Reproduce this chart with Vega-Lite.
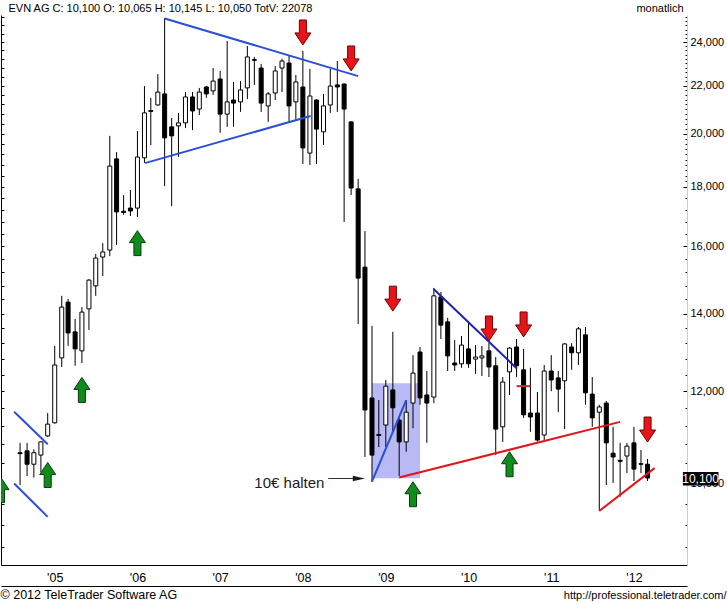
{
  "$schema": "https://vega.github.io/schema/vega-lite/v6.json",
  "width": 686,
  "height": 550,
  "autosize": {"type": "none"},
  "padding": {"left": 1, "top": 15, "right": 40, "bottom": 39},
  "background": "white",
  "config": {
    "view": {"stroke": null},
    "font": "Liberation Sans",
    "axis": {"grid": false, "labelFont": "Liberation Sans", "titleFont": "Liberation Sans"}
  },
  "datasets": {
    "candles": [
      {"date":"2004-08-01","open":10620,"high":10830,"low":9960,"close":10600},
      {"date":"2004-09-01","open":10660,"high":10830,"low":10140,"close":10380},
      {"date":"2004-10-01","open":10380,"high":10690,"low":10110,"close":10620},
      {"date":"2004-11-01","open":10570,"high":10860,"low":10220,"close":10850},
      {"date":"2004-12-01","open":10980,"high":11490,"low":10960,"close":11240},
      {"date":"2005-01-01","open":11270,"high":13130,"low":11250,"close":12640},
      {"date":"2005-02-01","open":12820,"high":14500,"low":12590,"close":14180},
      {"date":"2005-03-01","open":14320,"high":14410,"low":13130,"close":13470},
      {"date":"2005-04-01","open":13500,"high":13850,"low":12620,"close":13050},
      {"date":"2005-05-01","open":13000,"high":14180,"low":12690,"close":14040},
      {"date":"2005-06-01","open":14130,"high":14990,"low":13550,"close":14960},
      {"date":"2005-07-01","open":14790,"high":15760,"low":14500,"close":15630},
      {"date":"2005-08-01","open":15660,"high":16100,"low":15080,"close":15820},
      {"date":"2005-09-01","open":15880,"high":19920,"low":15690,"close":18760},
      {"date":"2005-10-01","open":19030,"high":19290,"low":16040,"close":17130},
      {"date":"2005-11-01","open":17150,"high":17710,"low":17030,"close":17110},
      {"date":"2005-12-01","open":17260,"high":17890,"low":16990,"close":17160},
      {"date":"2006-01-01","open":17260,"high":20110,"low":16960,"close":19100},
      {"date":"2006-02-01","open":19070,"high":21990,"low":18880,"close":20850},
      {"date":"2006-03-01","open":20950,"high":21480,"low":19560,"close":20910},
      {"date":"2006-04-01","open":21180,"high":22520,"low":21150,"close":21730},
      {"date":"2006-05-01","open":21650,"high":25170,"low":18030,"close":19840},
      {"date":"2006-06-01","open":20280,"high":20640,"low":17330,"close":19920},
      {"date":"2006-07-01","open":20320,"high":20850,"low":19100,"close":20440},
      {"date":"2006-08-01","open":20440,"high":21730,"low":20230,"close":21520},
      {"date":"2006-09-01","open":21520,"high":21730,"low":20150,"close":20930},
      {"date":"2006-10-01","open":21010,"high":21910,"low":20760,"close":21730},
      {"date":"2006-11-01","open":21950,"high":21990,"low":21480,"close":21650},
      {"date":"2006-12-01","open":21780,"high":22790,"low":21610,"close":22210},
      {"date":"2007-01-01","open":22300,"high":22660,"low":20040,"close":20800},
      {"date":"2007-02-01","open":20800,"high":24050,"low":20280,"close":21310},
      {"date":"2007-03-01","open":21390,"high":22170,"low":20280,"close":21260},
      {"date":"2007-04-01","open":21310,"high":22210,"low":20890,"close":21820},
      {"date":"2007-05-01","open":21910,"high":23810,"low":21430,"close":23300},
      {"date":"2007-06-01","open":23140,"high":23300,"low":22040,"close":23180},
      {"date":"2007-07-01","open":22790,"high":22980,"low":20890,"close":21260},
      {"date":"2007-08-01","open":21140,"high":21730,"low":20480,"close":21650},
      {"date":"2007-09-01","open":21690,"high":22880,"low":21390,"close":22660},
      {"date":"2007-10-01","open":22790,"high":23210,"low":21730,"close":23110},
      {"date":"2007-11-01","open":23020,"high":23390,"low":20480,"close":21140},
      {"date":"2007-12-01","open":21310,"high":22480,"low":20560,"close":22170},
      {"date":"2008-01-01","open":21950,"high":23580,"low":18840,"close":19450},
      {"date":"2008-02-01","open":19250,"high":22750,"low":18800,"close":21560},
      {"date":"2008-03-01","open":21390,"high":21420,"low":18840,"close":20190},
      {"date":"2008-04-01","open":20080,"high":21650,"low":19560,"close":21140},
      {"date":"2008-05-01","open":21180,"high":22750,"low":20850,"close":21990},
      {"date":"2008-06-01","open":22040,"high":23110,"low":20890,"close":21950},
      {"date":"2008-07-01","open":22080,"high":22100,"low":16790,"close":21010},
      {"date":"2008-08-01","open":20480,"high":20500,"low":17710,"close":17960},
      {"date":"2008-09-01","open":17930,"high":18290,"low":13710,"close":15020},
      {"date":"2008-10-01","open":15350,"high":16490,"low":10530,"close":11560},
      {"date":"2008-11-01","open":11840,"high":13660,"low":10020,"close":10570},
      {"date":"2008-12-01","open":11010,"high":11790,"low":10740,"close":10990},
      {"date":"2009-01-01","open":11220,"high":12270,"low":10740,"close":12120},
      {"date":"2009-02-01","open":12030,"high":13500,"low":11070,"close":11610},
      {"date":"2009-03-01","open":11330,"high":11380,"low":10140,"close":10850},
      {"date":"2009-04-01","open":10850,"high":11790,"low":10640,"close":11510},
      {"date":"2009-05-01","open":11720,"high":12890,"low":11150,"close":12440},
      {"date":"2009-06-01","open":12970,"high":13100,"low":11680,"close":11840},
      {"date":"2009-07-01","open":11910,"high":12490,"low":10830,"close":11720},
      {"date":"2009-08-01","open":11860,"high":14730,"low":11720,"close":14500},
      {"date":"2009-09-01","open":14470,"high":14610,"low":13310,"close":13680},
      {"date":"2009-10-01","open":13770,"high":13880,"low":12490,"close":12870},
      {"date":"2009-11-01","open":12690,"high":13280,"low":12490,"close":12640},
      {"date":"2009-12-01","open":12670,"high":13390,"low":12570,"close":13150},
      {"date":"2010-01-01","open":13050,"high":13790,"low":12570,"close":12670},
      {"date":"2010-02-01","open":12790,"high":13150,"low":12420,"close":12840},
      {"date":"2010-03-01","open":12820,"high":13130,"low":12370,"close":12870},
      {"date":"2010-04-01","open":13000,"high":13200,"low":12340,"close":12590},
      {"date":"2010-05-01","open":12620,"high":12840,"low":10570,"close":11130},
      {"date":"2010-06-01","open":11180,"high":12340,"low":10850,"close":12220},
      {"date":"2010-07-01","open":12470,"high":13100,"low":11910,"close":13070},
      {"date":"2010-08-01","open":13100,"high":13310,"low":12340,"close":12620},
      {"date":"2010-09-01","open":12520,"high":13050,"low":11380,"close":11450},
      {"date":"2010-10-01","open":11490,"high":12570,"low":11070,"close":11400},
      {"date":"2010-11-01","open":11490,"high":11980,"low":10860,"close":10890},
      {"date":"2010-12-01","open":11000,"high":12640,"low":10890,"close":12490},
      {"date":"2011-01-01","open":12490,"high":12890,"low":12000,"close":12270},
      {"date":"2011-02-01","open":12320,"high":12490,"low":11510,"close":12050},
      {"date":"2011-03-01","open":12250,"high":13200,"low":11130,"close":13180},
      {"date":"2011-04-01","open":13100,"high":13200,"low":12520,"close":12950},
      {"date":"2011-05-01","open":12950,"high":13630,"low":12640,"close":13580},
      {"date":"2011-06-01","open":13420,"high":13630,"low":11680,"close":11960},
      {"date":"2011-07-01","open":11930,"high":12340,"low":11180,"close":11380},
      {"date":"2011-08-01","open":11510,"high":11680,"low":9460,"close":11630},
      {"date":"2011-09-01","open":11720,"high":11770,"low":9960,"close":10830},
      {"date":"2011-10-01","open":10610,"high":11180,"low":10000,"close":10530},
      {"date":"2011-11-01","open":10460,"high":10830,"low":9730,"close":10440},
      {"date":"2011-12-01","open":10550,"high":10830,"low":10200,"close":10760},
      {"date":"2012-01-01","open":10830,"high":11180,"low":10040,"close":10280},
      {"date":"2012-02-01","open":10390,"high":10680,"low":10200,"close":10380},
      {"date":"2012-03-01","open":10380,"high":10490,"low":10040,"close":10100}
    ],
    "lines": [
      {"id":"L1","farbe":"blau","date":"2006-05-01","price":25150},
      {"id":"L1","farbe":"blau","date":"2008-09-01","price":22430},
      {"id":"L2","farbe":"blau","date":"2006-02-03","price":18870},
      {"id":"L2","farbe":"blau","date":"2008-02-04","price":20720},
      {"id":"L3","farbe":"blau","date":"2004-07-06","price":11520},
      {"id":"L3","farbe":"blau","date":"2004-12-01","price":10800},
      {"id":"L4","farbe":"blau","date":"2004-07-06","price":9990},
      {"id":"L4","farbe":"blau","date":"2004-12-01","price":9350},
      {"id":"L5","farbe":"blau","date":"2008-11-01","price":10030},
      {"id":"L5","farbe":"blau","date":"2009-04-01","price":11790},
      {"id":"L6","farbe":"dunkelblau","date":"2009-08-01","price":14690},
      {"id":"L6","farbe":"dunkelblau","date":"2010-08-01","price":12560},
      {"id":"L7","farbe":"rot","date":"2009-03-01","price":10110},
      {"id":"L7","farbe":"rot","date":"2011-11-01","price":11290},
      {"id":"L8","farbe":"rot","date":"2011-08-01","price":9460},
      {"id":"L8","farbe":"rot","date":"2012-04-01","price":10300},
      {"id":"L9","farbe":"dunkelrot","date":"2010-08-01","price":12120},
      {"id":"L9","farbe":"dunkelrot","date":"2010-10-01","price":12120}
    ],
    "arrows": [
      {"richtung":"auf","date":"2004-05-09","price":9860},
      {"richtung":"auf","date":"2004-12-01","price":10160},
      {"richtung":"auf","date":"2005-05-01","price":12030},
      {"richtung":"auf","date":"2006-01-01","price":16100},
      {"richtung":"auf","date":"2009-05-01","price":9780},
      {"richtung":"auf","date":"2010-07-01","price":10380},
      {"richtung":"ab","date":"2008-01-01","price":24460},
      {"richtung":"ab","date":"2008-08-01","price":23230},
      {"richtung":"ab","date":"2009-02-01","price":14420},
      {"richtung":"ab","date":"2010-04-01","price":13590},
      {"richtung":"ab","date":"2010-09-01","price":13700},
      {"richtung":"ab","date":"2012-03-01","price":11120}
    ],
    "zone": [{"start":"2008-11-01","end":"2009-06-01","low":10095,"high":12190}],
    "callout": [{"text":"10€ halten","textdate":"2007-06-01","textprice":9911,"from":"2008-04-22","to":"2008-09-01","tip":"2008-09-04","price":10090}],
    "tag": [{"label":"10,100","start":"2012-08-04","end":"2013-01-08","mid":"2012-10-21","low":9950,"high":10221,"price":10090}]
  },
  "layer": [
    {
      "data": {"name": "zone"},
      "mark": {"type": "rect", "color": "#b9b9f6"},
      "encoding": {
        "x": {
          "field": "start", "type": "temporal",
          "scale": {"type": "utc", "domain": [{"year": 2004, "month": 5, "date": 31, "utc": true}, {"year": 2012, "month": 7, "date": 31, "utc": true}]},
          "axis": {
            "orient": "bottom", "format": "'%y", "tickCount": {"interval": "year", "step": 1},
            "ticks": false, "labelFontSize": 12.5, "labelColor": "#000", "labelPadding": 6,
            "labelOverlap": false, "labelFlush": false, "domainColor": "#000", "domainWidth": 1,
            "title": "© 2012 TeleTrader Software AG", "titleX": -1, "titleY": 33.5,
            "titleAlign": "left", "titleBaseline": "alphabetic", "titleFontSize": 12.5,
            "titleFontWeight": "normal", "titleColor": "#000"
          }
        },
        "x2": {"field": "end"},
        "y": {
          "field": "low", "type": "quantitative",
          "scale": {"type": "log", "domain": [8498, 25322], "nice": false, "zero": false},
          "axis": {
            "orient": "right",
            "values": [8800,9200,9600,10000,10400,10800,11200,11600,12000,12400,12800,13200,13600,14000,14400,14800,15200,15600,16000,16400,16800,17200,17600,18000,18200,18400,18600,18800,19000,19200,19400,19600,19800,20000,20200,20400,20600,20800,21000,21200,21400,21600,21800,22000,22200,22400,22600,22800,23000,23200,23400,23600,23800,24000,24200,24400,24600,24800,25000,25200],
            "labelExpr": "datum.value % 2000 === 0 ? format(datum.value, ',') : ''",
            "tickSize": {"condition": {"test": "datum.value % 2000 === 0", "value": -4}, "value": -2},
            "tickColor": "#000", "tickWidth": 1,
            "labelPadding": 7, "labelFontSize": 11, "labelColor": "#000", "labelAlign": "left",
            "labelBaseline": "middle", "labelOverlap": false, "labelBound": false, "labelFlush": false,
            "domainColor": "#e3d07a", "domainWidth": 1,
            "title": "monatlich", "titleAngle": 0, "titleAlign": "right", "titleBaseline": "alphabetic",
            "titleX": -4, "titleY": -3.5, "titleFontSize": 11, "titleFontWeight": "normal", "titleColor": "#000"
          }
        },
        "y2": {"field": "high"}
      }
    },
    {
      "data": {"name": "candles"},
      "mark": {"type": "rule", "color": "#000", "strokeWidth": 1},
      "encoding": {
        "x": {
          "field": "date", "type": "temporal",
          "axis": {
            "orient": "bottom", "offset": 21, "labels": false, "ticks": false,
            "domainColor": "#000", "domainWidth": 1,
            "title": "http://professional.teletrader.com/", "titleX": 725, "titleY": 12.5,
            "titleAlign": "right", "titleBaseline": "alphabetic", "titleFontSize": 11,
            "titleFontWeight": "normal", "titleColor": "#000"
          }
        },
        "y": {
          "field": "low", "type": "quantitative",
          "axis": {
            "orient": "left",
            "values": [8800,9200,9600,10000,10400,10800,11200,11600,12000,12400,12800,13200,13600,14000,14400,14800,15200,15600,16000,16400,16800,17200,17600,18000,18400,18800,19200,19600,20000,20400,20800,21200,21600,22000,22400,22800,23200,23600,24000,24400,24800,25200],
            "labels": false, "tickSize": -3, "tickColor": "#000", "tickWidth": 1,
            "domainColor": "#000", "domainWidth": 1,
            "title": "EVN AG C: 10,100 O: 10,065 H: 10,145 L: 10,050 TotV: 22078",
            "titleAngle": 0, "titleAlign": "left", "titleBaseline": "alphabetic",
            "titleX": 7, "titleY": -3.5, "titleFontSize": 11, "titleFontWeight": "normal", "titleColor": "#000"
          }
        },
        "y2": {"field": "high"}
      }
    },
    {
      "data": {"name": "candles"},
      "mark": {"type": "bar", "width": 4, "strokeWidth": 1},
      "encoding": {
        "x": {"field": "date", "type": "temporal", "axis": null},
        "y": {"field": "open", "type": "quantitative", "axis": null},
        "y2": {"field": "close"},
        "fill": {"condition": {"test": "datum.close > datum.open", "value": "#ffffff"}, "value": "#000000"},
        "stroke": {"value": "#000000"}
      }
    },
    {
      "data": {"name": "lines"},
      "mark": {"type": "line", "strokeWidth": 2},
      "encoding": {
        "x": {"field": "date", "type": "temporal", "axis": null},
        "y": {"field": "price", "type": "quantitative", "axis": null},
        "detail": {"field": "id"},
        "color": {"field": "farbe", "type": "nominal", "legend": null,
          "scale": {"domain": ["blau", "dunkelblau", "rot", "dunkelrot"], "range": ["#2a4fd8", "#1e22b2", "#e3141c", "#c0303a"]}}
      }
    },
    {
      "data": {"name": "callout"},
      "mark": {"type": "rule", "color": "#303030", "strokeWidth": 1},
      "encoding": {
        "x": {"field": "from", "type": "temporal", "axis": null},
        "x2": {"field": "to"},
        "y": {"field": "price", "type": "quantitative", "axis": null}
      }
    },
    {
      "data": {"name": "callout"},
      "mark": {"type": "point", "shape": "M-1,-0.45L1,0L-1,0.45Z", "size": 144, "filled": true, "opacity": 1, "color": "#1a1a1a"},
      "encoding": {
        "x": {"field": "tip", "type": "temporal", "axis": null},
        "y": {"field": "price", "type": "quantitative", "axis": null}
      }
    },
    {
      "data": {"name": "callout"},
      "mark": {"type": "text", "align": "left", "baseline": "alphabetic", "fontSize": 15, "font": "Liberation Sans", "color": "#1a1a1a"},
      "encoding": {
        "x": {"field": "textdate", "type": "temporal", "axis": null},
        "y": {"field": "textprice", "type": "quantitative", "axis": null},
        "text": {"field": "text"}
      }
    },
    {
      "data": {"name": "arrows"},
      "mark": {"type": "point", "size": 256, "filled": true, "opacity": 1, "strokeWidth": 1, "clip": true},
      "encoding": {
        "x": {"field": "date", "type": "temporal", "axis": null},
        "y": {"field": "price", "type": "quantitative", "axis": null},
        "shape": {"field": "richtung", "type": "nominal", "legend": null,
          "scale": {"domain": ["auf", "ab"], "range": ["M-0.44,1.56L0.44,1.56L0.44,-0.06L1,-0.06L0,-1.56L-1,-0.06L-0.44,-0.06Z", "M-0.44,-1.56L0.44,-1.56L0.44,0.06L1,0.06L0,1.56L-1,0.06L-0.44,0.06Z"]}},
        "fill": {"field": "richtung", "type": "nominal", "legend": null,
          "scale": {"domain": ["auf", "ab"], "range": ["#0f8c1a", "#e8141a"]}},
        "stroke": {"field": "richtung", "type": "nominal", "legend": null,
          "scale": {"domain": ["auf", "ab"], "range": ["#0b3a0b", "#700000"]}}
      }
    },
    {
      "data": {"name": "tag"},
      "mark": {"type": "rect", "color": "#000000"},
      "encoding": {
        "x": {"field": "start", "type": "temporal", "axis": null},
        "x2": {"field": "end"},
        "y": {"field": "low", "type": "quantitative", "axis": null},
        "y2": {"field": "high"}
      }
    },
    {
      "data": {"name": "tag"},
      "mark": {"type": "text", "align": "center", "baseline": "middle", "fontSize": 12, "font": "Liberation Sans", "color": "#ffffff"},
      "encoding": {
        "x": {"field": "mid", "type": "temporal", "axis": null},
        "y": {"field": "price", "type": "quantitative", "axis": null},
        "text": {"field": "label"}
      }
    }
  ],
  "resolve": {"axis": {"x": "independent", "y": "independent"}}
}
